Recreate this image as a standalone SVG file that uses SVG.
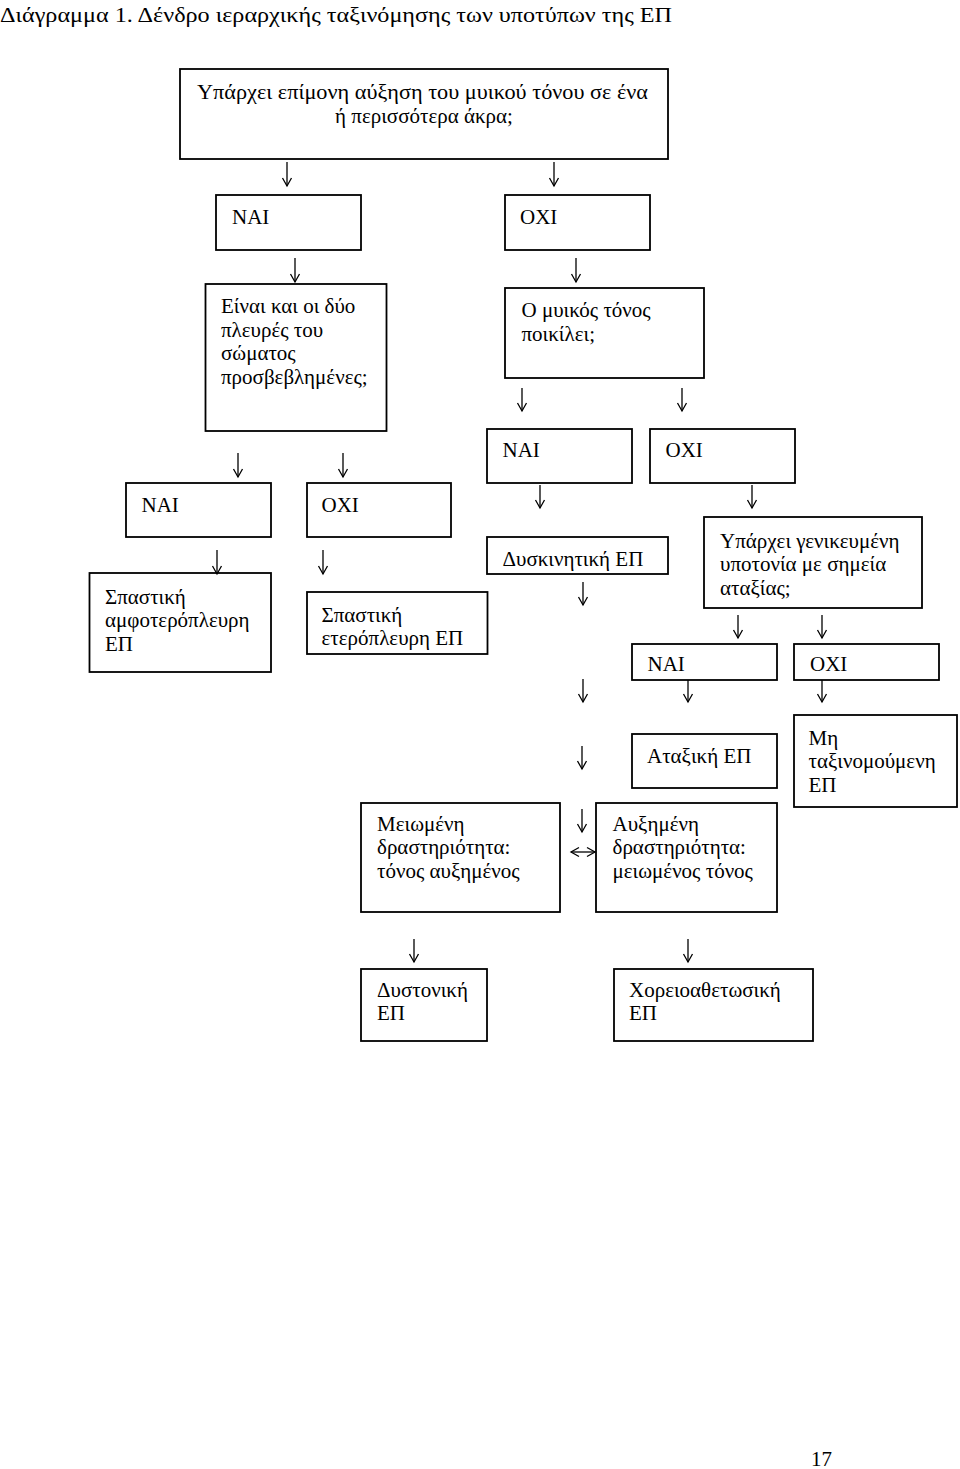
<svg xmlns="http://www.w3.org/2000/svg" width="960" height="1469" viewBox="0 0 960 1469">
<style>
  text { font-family: "Liberation Serif", "Times New Roman", serif; font-size: 21px; fill: #000; }
  .title { font-size: 21.5px; }
  .box { fill: #fff; stroke: #000; stroke-width: 1.8; }
  .c line { stroke: #000; stroke-width: 1.3; fill: none; }
</style>
<defs>
  <marker id="a" viewBox="-10 -6 12 12" refX="0" refY="0" markerWidth="12" markerHeight="12" markerUnits="userSpaceOnUse" orient="auto-start-reverse">
    <path d="M-8,-4.5 L0,0 L-8,4.5" fill="none" stroke="#000" stroke-width="1.3"/>
  </marker>
</defs>
<rect width="960" height="1469" fill="#fff"/>
<text class="title" x="0" y="22" textLength="672" lengthAdjust="spacingAndGlyphs">Διάγραμμα 1. Δένδρο ιεραρχικής ταξινόμησης των υποτύπων της ΕΠ</text>

<g id="n-top"><rect class="box" x="180" y="69" width="488" height="90"/>
  <text x="422.5" y="99" text-anchor="middle" textLength="451" lengthAdjust="spacingAndGlyphs">Υπάρχει επίμονη αύξηση του μυικού τόνου σε ένα</text>
  <text x="424" y="123" text-anchor="middle">ή περισσότερα άκρα;</text></g>
<g id="n-nai1"><rect class="box" x="216" y="195" width="145" height="55"/><text x="232" y="224">ΝΑΙ</text></g>
<g id="n-oxi1"><rect class="box" x="505" y="195" width="145" height="55"/><text x="520" y="224">ΟΧΙ</text></g>
<g id="n-q2"><rect class="box" x="205.5" y="284" width="181" height="147"/>
  <text x="221" y="313">Είναι και οι δύο</text><text x="221" y="336.5">πλευρές του</text>
  <text x="221" y="360">σώματος</text><text x="221" y="383.5">προσβεβλημένες;</text></g>
<g id="n-q3"><rect class="box" x="505" y="288" width="199" height="90"/>
  <text x="521.5" y="317">Ο μυικός τόνος</text><text x="521.5" y="340.5">ποικίλει;</text></g>
<g id="n-nai3"><rect class="box" x="487" y="429" width="145" height="54"/><text x="502.5" y="457">ΝΑΙ</text></g>
<g id="n-oxi3"><rect class="box" x="650" y="429" width="145" height="54"/><text x="665.5" y="457">ΟΧΙ</text></g>
<g id="n-nai2"><rect class="box" x="126" y="483" width="145" height="54"/><text x="141.5" y="511.5">ΝΑΙ</text></g>
<g id="n-oxi2"><rect class="box" x="307" y="483" width="144" height="54"/><text x="321.5" y="511.5">ΟΧΙ</text></g>
<g id="n-amf"><rect class="box" x="89.5" y="573" width="181.5" height="99"/>
  <text x="105" y="603.5">Σπαστική</text><text x="105" y="627">αμφοτερόπλευρη</text><text x="105" y="650.5">ΕΠ</text></g>
<g id="n-ete"><rect class="box" x="307" y="592" width="180.5" height="62"/>
  <text x="321.5" y="621.5">Σπαστική</text><text x="321.5" y="645">ετερόπλευρη ΕΠ</text></g>
<g id="n-dysk"><rect class="box" x="487" y="537" width="181" height="37"/><text x="502.5" y="566">Δυσκινητική ΕΠ</text></g>
<g id="n-q4"><rect class="box" x="704" y="517" width="218" height="91"/>
  <text x="720" y="547.5">Υπάρχει γενικευμένη</text><text x="720" y="571">υποτονία με σημεία</text><text x="720" y="594.5">αταξίας;</text></g>
<g id="n-nai4"><rect class="box" x="632" y="644" width="145" height="36"/><text x="647.5" y="671">ΝΑΙ</text></g>
<g id="n-oxi4"><rect class="box" x="794" y="644" width="145" height="36"/><text x="810" y="671">ΟΧΙ</text></g>
<g id="n-atax"><rect class="box" x="632" y="734" width="145" height="54"/><text x="647" y="763">Αταξική ΕΠ</text></g>
<g id="n-mh"><rect class="box" x="794" y="715" width="163" height="92"/>
  <text x="808.5" y="744.5">Μη</text><text x="808.5" y="768">ταξινομούμενη</text><text x="808.5" y="791.5">ΕΠ</text></g>
<g id="n-meiom"><rect class="box" x="361" y="803" width="199" height="109"/>
  <text x="377" y="830.5">Μειωμένη</text><text x="377" y="854">δραστηριότητα:</text><text x="377" y="877.5">τόνος αυξημένος</text></g>
<g id="n-afx"><rect class="box" x="596" y="803" width="181" height="109"/>
  <text x="612.5" y="830.5">Αυξημένη</text><text x="612.5" y="854">δραστηριότητα:</text><text x="612.5" y="877.5">μειωμένος τόνος</text></g>
<g id="n-dyst"><rect class="box" x="361" y="969" width="126" height="72"/>
  <text x="377" y="996.5">Δυστονική</text><text x="377" y="1020">ΕΠ</text></g>
<g id="n-xor"><rect class="box" x="614" y="969" width="199" height="72"/>
  <text x="629" y="996.5">Χορειοαθετωσική</text><text x="629" y="1020">ΕΠ</text></g>

<g id="connectors" class="c">
  <line x1="287" y1="162" x2="287" y2="186" marker-end="url(#a)"/>
  <line x1="554" y1="162" x2="554" y2="186" marker-end="url(#a)"/>
  <line x1="295" y1="258" x2="295" y2="282" marker-end="url(#a)"/>
  <line x1="576" y1="258" x2="576" y2="282" marker-end="url(#a)"/>
  <line x1="522" y1="388" x2="522" y2="411" marker-end="url(#a)"/>
  <line x1="682" y1="388" x2="682" y2="411" marker-end="url(#a)"/>
  <line x1="238" y1="453" x2="238" y2="477" marker-end="url(#a)"/>
  <line x1="343" y1="453" x2="343" y2="477" marker-end="url(#a)"/>
  <line x1="540" y1="485" x2="540" y2="508" marker-end="url(#a)"/>
  <line x1="752" y1="485" x2="752" y2="508" marker-end="url(#a)"/>
  <line x1="217" y1="550" x2="217" y2="574" marker-end="url(#a)"/>
  <line x1="323" y1="550" x2="323" y2="574" marker-end="url(#a)"/>
  <line x1="583" y1="582" x2="583" y2="605" marker-end="url(#a)"/>
  <line x1="738" y1="615" x2="738" y2="638" marker-end="url(#a)"/>
  <line x1="822" y1="615" x2="822" y2="638" marker-end="url(#a)"/>
  <line x1="583" y1="679" x2="583" y2="702" marker-end="url(#a)"/>
  <line x1="688" y1="680" x2="688" y2="702" marker-end="url(#a)"/>
  <line x1="822" y1="680" x2="822" y2="702" marker-end="url(#a)"/>
  <line x1="582" y1="746" x2="582" y2="769" marker-end="url(#a)"/>
  <line x1="582" y1="809" x2="582" y2="832" marker-end="url(#a)"/>
  <line x1="571" y1="852" x2="595" y2="852" marker-start="url(#a)" marker-end="url(#a)"/>
  <line x1="414" y1="939" x2="414" y2="962" marker-end="url(#a)"/>
  <line x1="688" y1="939" x2="688" y2="962" marker-end="url(#a)"/>
</g>
<text x="811" y="1466" style="font-size:21px">17</text>
</svg>
